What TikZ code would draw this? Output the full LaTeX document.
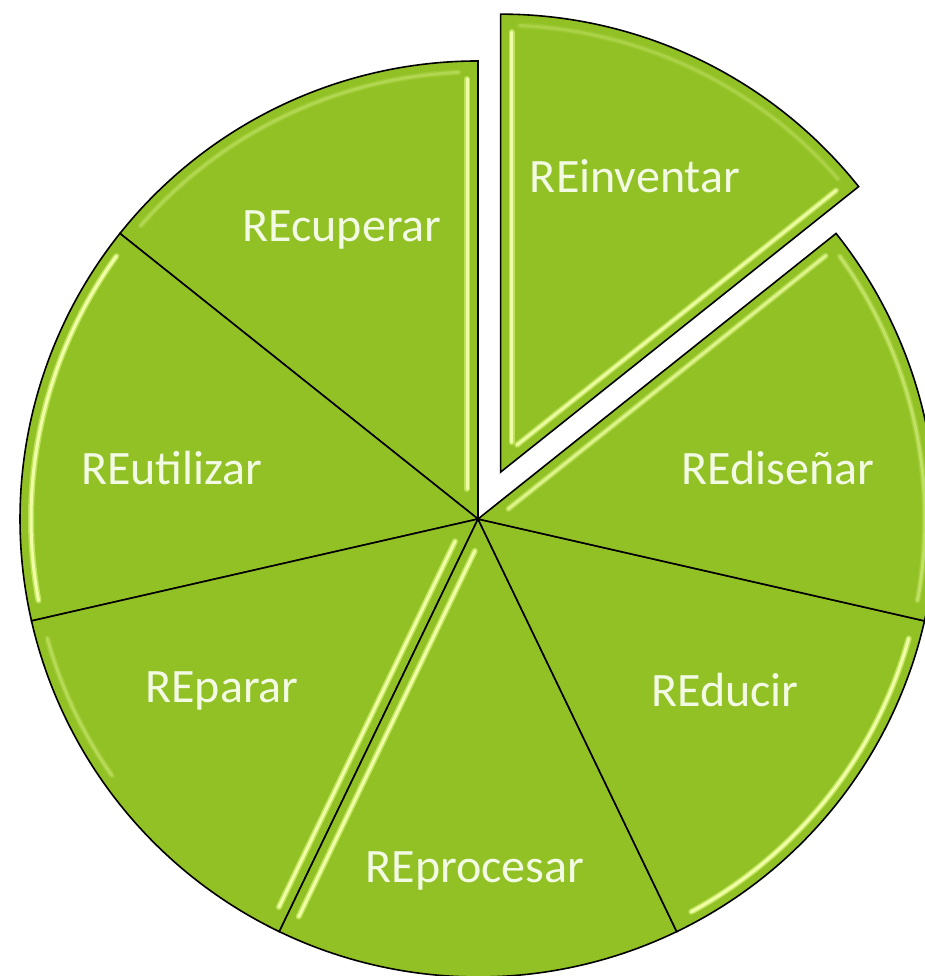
\documentclass[tikz,border=0pt]{standalone}
\usepackage{fontspec}
\setmainfont{Carlito}
\definecolor{slicegreen}{RGB}{146,193,38}
\definecolor{hlcorecol}{RGB}{240,255,165}
\definecolor{hlglowcol}{RGB}{190,226,90}
\definecolor{labelwhite}{RGB}{243,250,228}
\newcommand{\edgehl}[6]{%
  \begin{scope}[shift={(#1)},opacity=#6]
    \draw[hlglow,shift={(#3:11)}] (#2:#4) -- (#2:#5);
    \draw[hlcore,shift={(#3:11)}] (#2:#4) -- (#2:#5);
  \end{scope}}
\newcommand{\archl}[5]{%
  \begin{scope}[shift={(#1)},opacity=#5]
    \draw[hlglow] (#2:#4) arc[start angle=#2, end angle=#3, radius=#4];
    \draw[hlcore] (#2:#4) arc[start angle=#2, end angle=#3, radius=#4];
  \end{scope}}
\begin{document}
\begin{tikzpicture}[x=1pt,y=1pt,
  slice/.style={fill=slicegreen, draw=black, line width=1.6pt, line join=miter},
  hlglow/.style={draw=hlglowcol, line width=6pt, line cap=round},
  hlcore/.style={draw=hlcorecol, line width=3pt, line cap=round},
  lbl/.style={text=labelwhite, font=\fontsize{48}{58}\selectfont, anchor=base, inner sep=0pt}]
\useasboundingbox (0,0) rectangle (925,976);
\def\R{458}
\coordinate (O) at (478,457);
\coordinate (E) at (500.56,503.85);
% slices
\path[slice,shift={(E)}] (0,0) -- (38.571:\R) arc[start angle=38.571, end angle=90, radius=\R] -- cycle;
\path[slice,shift={(O)}] (0,0) -- (90:\R) arc[start angle=90, end angle=141.429, radius=\R] -- cycle;
\path[slice,shift={(O)}] (0,0) -- (141.429:\R) arc[start angle=141.429, end angle=192.857, radius=\R] -- cycle;
\path[slice,shift={(O)}] (0,0) -- (192.857:\R) arc[start angle=192.857, end angle=244.286, radius=\R] -- cycle;
\path[slice,shift={(O)}] (0,0) -- (244.286:\R) arc[start angle=244.286, end angle=295.714, radius=\R] -- cycle;
\path[slice,shift={(O)}] (0,0) -- (295.714:\R) arc[start angle=295.714, end angle=347.143, radius=\R] -- cycle;
\path[slice,shift={(O)}] (0,0) -- (347.143:\R) arc[start angle=347.143, end angle=398.571, radius=\R] -- cycle;
% bevel highlights
% REinventar
\edgehl{E}{38.571}{128.571}{30}{438}{0.9}
\edgehl{E}{90}{0}{30}{440}{1}
\archl{E}{41}{87.5}{447}{0.2}
% REcuperar
\edgehl{O}{90}{180}{30}{440}{1}
\archl{O}{92.5}{139}{447}{0.25}
% REutilizar
\archl{O}{144}{190.5}{447}{1}
% REparar
\edgehl{O}{244.286}{154.286}{30}{436}{1}
\archl{O}{195.5}{215}{447}{0.3}
% REprocesar
\edgehl{O}{244.286}{334.286}{30}{436}{1}
% REducir
\archl{O}{298.5}{344.5}{447}{1}
% REdiseñar
\edgehl{O}{398.571}{308.571}{30}{436}{0.7}
\archl{O}{349.5}{396}{447}{0.4}
% labels
\node[lbl] (inventar) at (635,783) {REinventar};
\node[lbl] (cuperar) at (342,734) {REcuperar};
\node[lbl] (utilizar) at (172,491) {REutilizar};
\node[lbl] (disenar) at (778,491) {REdiseñar};
\node[lbl] (parar) at (222,273) {REparar};
\node[lbl] (ducir) at (725,269) {REducir};
\node[lbl] (procesar) at (475,93) {REprocesar};
\end{tikzpicture}
\end{document}
